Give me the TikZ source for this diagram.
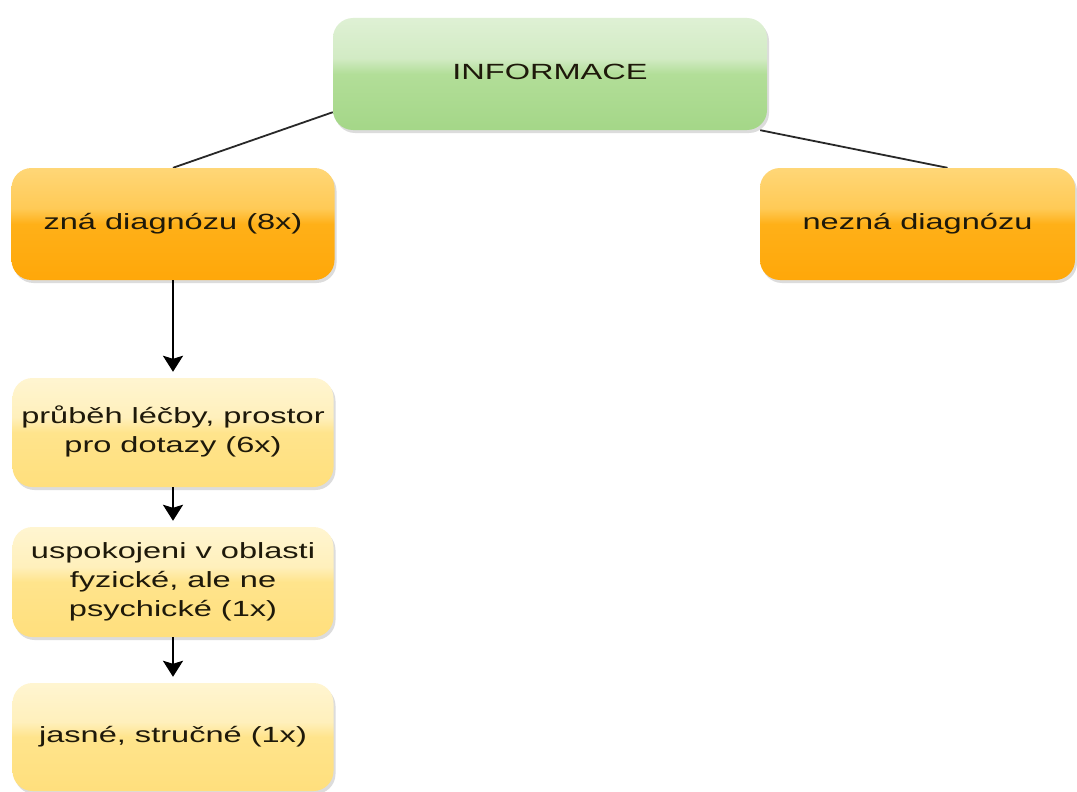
\documentclass[tikz,border=0pt]{standalone}
\usepackage{fontspec}
\setmainfont{Liberation Sans}
\usetikzlibrary{shadows,arrows.meta,backgrounds}

% glossy fills
\definecolor{gA}{RGB}{140,200,110}
\definecolor{gB}{RGB}{156,210,126}
\definecolor{gC}{RGB}{178,222,152}
\definecolor{gD}{RGB}{210,235,196}
\definecolor{gE}{RGB}{240,248,235}
\definecolor{oA}{RGB}{255,176,30}
\definecolor{oB}{RGB}{255,162,0}
\definecolor{oC}{RGB}{255,176,24}
\definecolor{oD}{RGB}{255,202,86}
\definecolor{oE}{RGB}{255,232,165}
\definecolor{yA}{RGB}{255,214,98}
\definecolor{yB}{RGB}{255,220,115}
\definecolor{yC}{RGB}{255,228,140}
\definecolor{yD}{RGB}{255,240,188}
\definecolor{yE}{RGB}{255,252,238}
\definecolor{ink}{RGB}{30,25,10}
\definecolor{linkgray}{RGB}{40,40,40}

\pgfdeclareverticalshading{glossgreen}{100bp}{color(0bp)=(gA); color(10bp)=(gB); color(50bp)=(gC); color(57bp)=(gD); color(100bp)=(gE)}
\pgfdeclareverticalshading{glossorange}{100bp}{color(0bp)=(oA); color(10bp)=(oB); color(50bp)=(oC); color(57bp)=(oD); color(100bp)=(oE)}
\pgfdeclareverticalshading{glossyellow}{100bp}{color(0bp)=(yA); color(10bp)=(yB); color(50bp)=(yC); color(57bp)=(yD); color(100bp)=(yE)}

% horizontally widened label text
\newcommand{\boxlabel}[1]{\scalebox{1.48}[1]{\begin{tabular}{@{}c@{}}#1\end{tabular}}}

\tikzset{
  card/.style={rectangle, rounded corners=20pt, inner sep=0pt,
    text=ink, font=\fontsize{22}{29}\selectfont,
    drop shadow={shadow xshift=2pt, shadow yshift=-3pt, fill=black!30, opacity=0.45}},
  topcard/.style={card, shading=glossgreen, minimum width=434pt, minimum height=112pt},
  midcard/.style={card, shading=glossorange, minimum height=112pt},
  lowcard/.style={card, shading=glossyellow, minimum width=321pt},
  link/.style={draw=linkgray, line width=1.8pt},
  flow/.style={draw=black, line width=2.4pt, shorten >=6pt,
    -{Stealth[length=16pt, width=20pt, inset=3pt]}}
}

\begin{document}
\begin{tikzpicture}[x=1pt, y=-1pt]
  \useasboundingbox (0,0) rectangle (1077,792);

  \node[topcard] (info) at (550,74) {\boxlabel{INFORMACE}};
  \node[midcard, minimum width=323pt] (zna) at (173,224) {\boxlabel{zná diagnózu (8x)}};
  \node[midcard, minimum width=315pt] (nezna) at (917.5,224) {\boxlabel{nezná diagnózu}};
  \node[lowcard, minimum height=109pt] (prubeh) at (173,432.5) {\boxlabel{průběh léčby, prostor\\pro dotazy (6x)}};
  \node[lowcard, minimum height=110pt] (uspok) at (173,582) {\boxlabel{uspokojeni v oblasti\\fyzické, ale ne\\psychické (1x)}};
  \node[lowcard, minimum height=108pt] (jasne) at (173,737) {\boxlabel{jasné, stručné (1x)}};

  \begin{scope}[on background layer]
    \fill[white] (0,0) rectangle (1077,792);
    \draw[link] ([yshift=18pt]info.south west) -- (zna.north);
    \draw[link] ([xshift=-7pt]info.south east) -- ([xshift=30pt]nezna.north);
  \end{scope}

  \draw[flow] (zna.south) -- (prubeh.north);
  \draw[flow] (prubeh.south) -- (uspok.north);
  \draw[flow] (uspok.south) -- (jasne.north);
\end{tikzpicture}
\end{document}
